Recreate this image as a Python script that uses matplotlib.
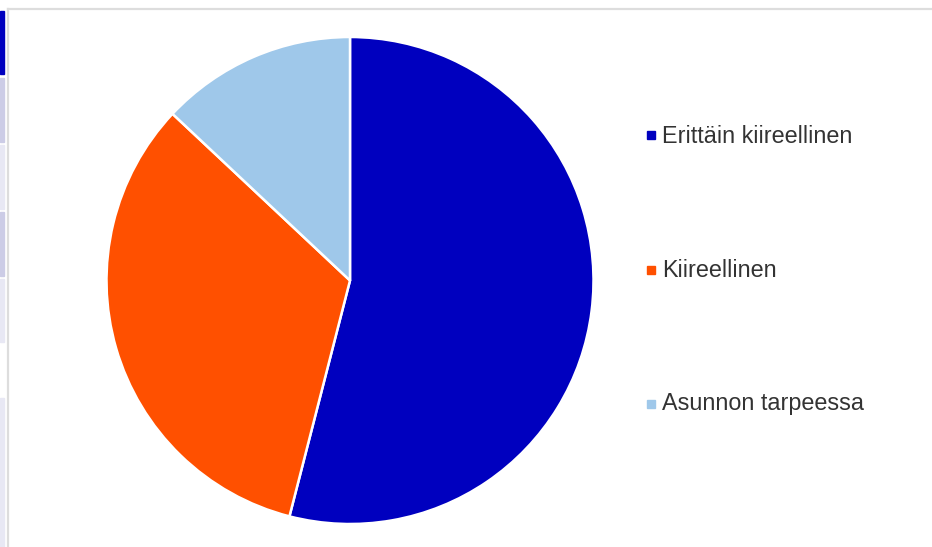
import matplotlib
matplotlib.use("Agg")
import matplotlib.pyplot as plt
from matplotlib.patches import Rectangle
from matplotlib.lines import Line2D

categories = ["Erittäin kiireellinen", "Kiireellinen", "Asunnon tarpeessa"]
values = [54, 33, 13]
colors = ["#0000BF", "#FF5000", "#9FC8EA"]

W, H = 932, 547
fig = plt.figure(figsize=(W / 100, H / 100), dpi=100)
fig.patch.set_facecolor("white")

# page artefacts: left strip blocks and frame lines
strip = [(11, 74, "#0000BF"), (78, 142, "#CCCCE6"), (145, 209, "#E8E8F4"),
         (212, 276, "#CCCCE6"), (279, 342, "#E8E8F4"), (398, 547, "#E8E8F4")]
for y0, y1, c in strip:
    fig.patches.append(Rectangle((0, 1 - y1 / H), 4 / W, (y1 - y0) / H,
                                 transform=fig.transFigure, color=c, zorder=0))
fig.add_artist(Line2D([8 / W, 8 / W], [0, 1 - 9 / H], transform=fig.transFigure,
                      color="#DDDDDD", lw=1.6))
fig.add_artist(Line2D([8 / W, 1], [1 - 9 / H, 1 - 9 / H], transform=fig.transFigure,
                      color="#DDDDDD", lw=1.6))

cx, cy, r = 350, 280.5, 243.5
ax = fig.add_axes([(cx - r) / W, 1 - (cy + r) / H, 2 * r / W, 2 * r / H])
ax.pie(values, colors=colors, startangle=90, counterclock=False, radius=1,
       wedgeprops=dict(edgecolor="white", linewidth=1.8))
ax.set_xlim(-1, 1)
ax.set_ylim(-1, 1)
ax.set_aspect("equal")
ax.axis("off")

# legend
marker_y = [135.5, 269.5, 404]
base_y = [143.3, 276.7, 410]
for lab, c, my, by in zip(categories, colors, marker_y, base_y):
    fig.patches.append(Rectangle((647 / W, 1 - (my + 4) / H), 8 / W, 8 / H,
                                 transform=fig.transFigure, color=c))
    fig.text(662 / W, 1 - by / H, lab, ha="left", va="baseline",
             fontsize=16.8, family="Liberation Sans", color="#333333")

fig.savefig("out.png", dpi=100)
